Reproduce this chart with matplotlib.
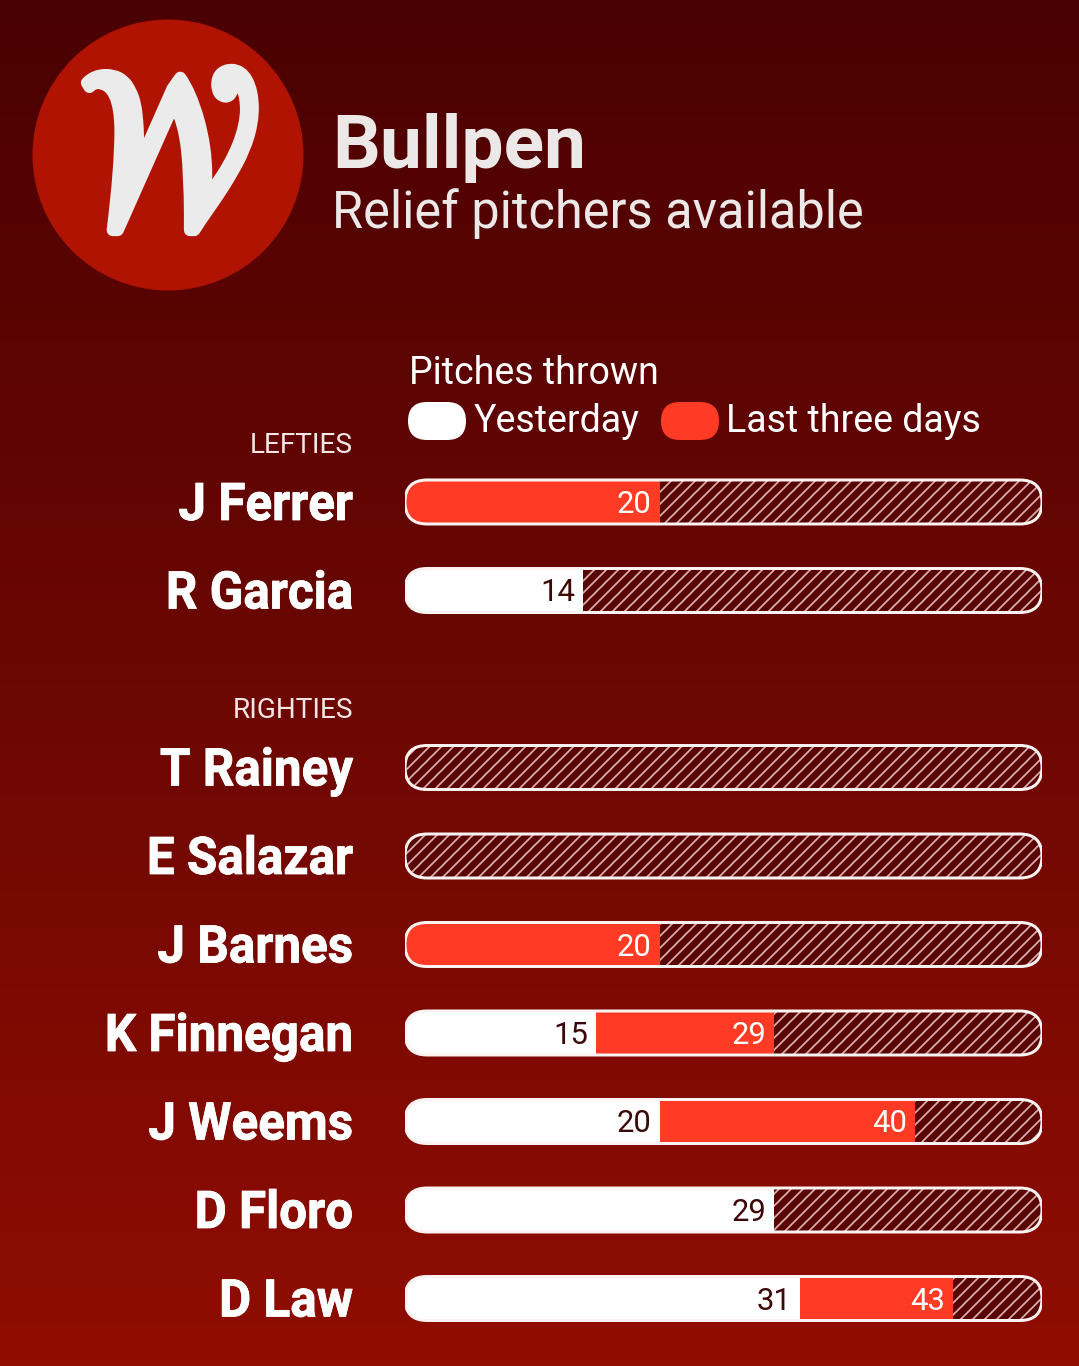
import numpy as np
import matplotlib.pyplot as plt
import matplotlib.patheffects as pe
from matplotlib.patches import FancyBboxPatch, Circle
from matplotlib.colors import LinearSegmentedColormap
from matplotlib.transforms import Affine2D

# figure in pixel units (dpi 72 -> 1 pt == 1 px)
W, H, DPI = 1079, 1366, 72
plt.rcParams['hatch.linewidth'] = 1.7

# data
names = ['J Ferrer', 'R Garcia', 'T Rainey', 'E Salazar', 'J Barnes',
         'K Finnegan', 'J Weems', 'D Floro', 'D Law']
slots = [0, 1, 3, 4, 5, 6, 7, 8, 9]
yesterday = [0, 14, 0, 0, 0, 15, 20, 29, 31]
three_days = [20, 14, 0, 0, 20, 29, 40, 29, 43]
groups = ['LEFTIES', 'RIGHTIES']
group_slots = [0, 3]
max_pitches = 50

# colours
RED = '#ff3b25'
WHITE = '#ffffff'
HATCH_BG = '#5a0303'
DARK_TXT = '#3d0808'
sans = ['Roboto', 'DejaVu Sans']


class Warp(pe.AbstractPathEffect):
    """scale glyphs around a display point, optional same-colour stroke"""
    def __init__(self, sx, sy, x0, y0, stroke=0):
        super().__init__()
        self.t = Affine2D().translate(-x0, -y0).scale(sx, sy).translate(x0, y0)
        self.stroke = stroke

    def draw_path(self, renderer, gc, tpath, affine, rgbFace=None):
        affine = affine + self.t
        if self.stroke:
            gc0 = renderer.new_gc()
            gc0.copy_properties(gc)
            gc0.set_linewidth(self.stroke)
            gc0.set_foreground(rgbFace)
            renderer.draw_path(gc0, tpath, affine, rgbFace)
            gc0.restore()
        renderer.draw_path(gc, tpath, affine, rgbFace)


fig = plt.figure(figsize=(W / DPI, H / DPI), dpi=DPI)

# background gradient + header drawn in a pixel-space axes
bg = fig.add_axes([0, 0, 1, 1], zorder=0)
grad = LinearSegmentedColormap.from_list('bg', ['#4a0101', '#6c0703', '#900d02'])
bg.imshow(np.linspace(0, 1, 256).reshape(-1, 1), aspect='auto', cmap=grad,
          extent=[0, W, H, 0])
bg.set_xlim(0, W)
bg.set_ylim(H, 0)
bg.axis('off')

# logo
bg.add_patch(Circle((168, 155), 135, color='#b11302'))
bg.text(168, 163, r'$\mathcal{W}$', math_fontfamily='stix', fontsize=172,
        color='#ebebeb', ha='center', va='center',
        path_effects=[Warp(1.0, 1.3, 168, H - 163, stroke=12)])

# titles
bg.text(332, 168, 'Bullpen', fontsize=75, fontweight='bold', family=sans,
        color='#ece8e8', va='baseline')
bg.text(332, 228, 'Relief pitchers available', fontsize=50.5, family=sans,
        color='#ece8e8', va='baseline')

# legend
bg.text(409, 384, 'Pitches thrown', fontsize=37.5, family=sans,
        color=WHITE, va='baseline')
bg.add_patch(FancyBboxPatch((408, 402), 58, 38, boxstyle='round,pad=0,rounding_size=19',
                            facecolor=WHITE, edgecolor='none'))
bg.text(474, 432, 'Yesterday', fontsize=37.5, family=sans, color=WHITE, va='baseline')
bg.add_patch(FancyBboxPatch((661, 402), 58, 38, boxstyle='round,pad=0,rounding_size=19',
                            facecolor=RED, edgecolor='none'))
bg.text(726, 432, 'Last three days', fontsize=37.5, family=sans, color=WHITE, va='baseline')

# bar axes
row_px = 88.5
ax_left, ax_w = 405, 637
ax_top = 502 - row_px / 2
ax_h = row_px * 10
ax = fig.add_axes([ax_left / W, 1 - (ax_top + ax_h) / H, ax_w / W, ax_h / H], zorder=1)
ax.set_xlim(0, max_pitches)
ax.set_ylim(9.5, -0.5)
ax.axis('off')
ax.patch.set_alpha(0)

bar_h = 44 / row_px
r_x = 22 / (ax_w / max_pitches)
m_aspect = (bar_h / 2) / r_x
name_x = 353
name_fx = [Warp(0.95, 1.0, name_x, 0, stroke=0.8)]

for name, s, yd, td in zip(names, slots, yesterday, three_days):
    cap = FancyBboxPatch((0, s - bar_h / 2), max_pitches, bar_h,
                         boxstyle=f'round,pad=0,rounding_size={r_x}',
                         mutation_aspect=m_aspect, facecolor='none',
                         edgecolor='#fbf3f1', lw=3, zorder=5)
    ax.add_patch(cap)

    parts = []
    parts += ax.barh(s, max_pitches - td, left=td, height=bar_h, color=HATCH_BG,
                     hatch='//', edgecolor=(1, 0.87, 0.87, 0.8), lw=0, zorder=2)
    parts += ax.barh(s, yd, left=0, height=bar_h, color=WHITE, lw=0, zorder=3)
    parts += ax.barh(s, td - yd, left=yd, height=bar_h, color=RED, lw=0, zorder=3)
    for p in parts:
        p.set_clip_path(cap)

    if yd > 0:
        ax.annotate(str(yd), (yd, s), xytext=(-8, -11), textcoords='offset points',
                    ha='right', va='baseline', fontsize=31, family=sans,
                    color=DARK_TXT, zorder=6)
    if td > yd:
        ax.annotate(str(td), (td, s), xytext=(-8, -11), textcoords='offset points',
                    ha='right', va='baseline', fontsize=31, family=sans,
                    color=WHITE, zorder=6)

    ax.annotate(name, xy=(name_x, s), xycoords=('figure pixels', 'data'),
                xytext=(0, -18), textcoords='offset points', ha='right',
                va='baseline', fontsize=52, fontweight='bold', family=sans,
                color=WHITE, annotation_clip=False, path_effects=name_fx)

for g, s in zip(groups, group_slots):
    ax.annotate(g, xy=(name_x, s), xycoords=('figure pixels', 'data'),
                xytext=(0, 49), textcoords='offset points', ha='right',
                va='baseline', fontsize=28, family=sans, color='#f3e6e6',
                annotation_clip=False)

fig.savefig('out.png', dpi=DPI)
